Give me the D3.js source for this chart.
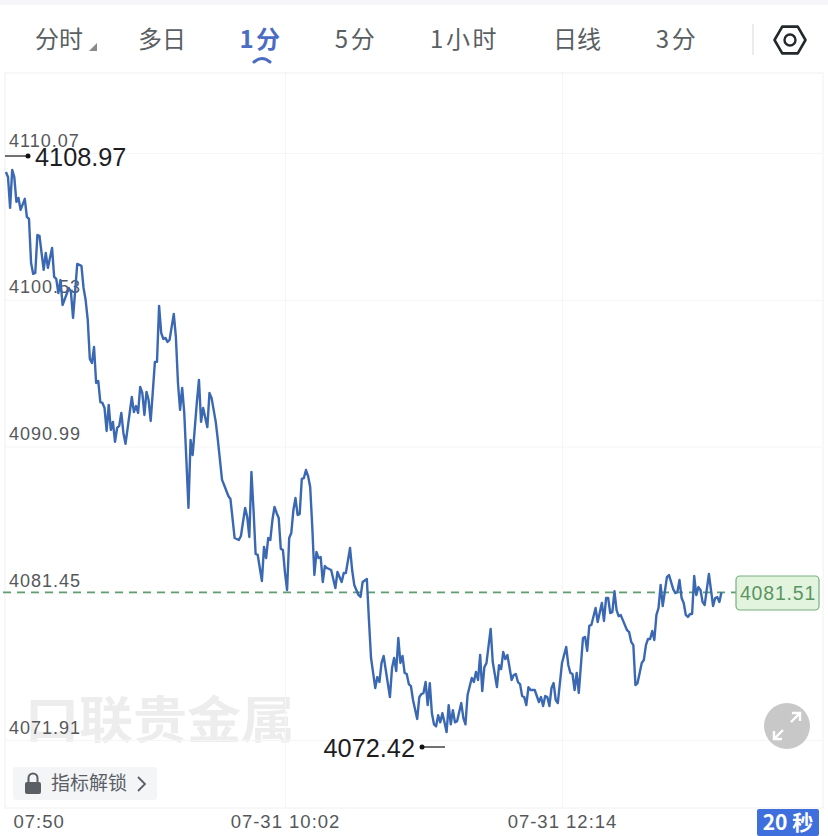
<!DOCTYPE html>
<html>
<head>
<meta charset="utf-8">
<script src="https://cdnjs.cloudflare.com/ajax/libs/d3/7.8.5/d3.min.js"></script>
<style>
html,body{margin:0;padding:0;background:#fff;overflow:hidden}
svg{display:block}
text{font-family:"Liberation Sans",Arial,sans-serif}
.cjk{font-family:"Noto Sans CJK SC","Noto Sans",sans-serif}
</style>
</head>
<body>
<svg id="chart" width="828" height="836"></svg>
<script>
// Minutes after 07:50 for each traced vertex of the price line
const minutes = [-1,0,1,2,3,4,5,6,8,9,10,11,12,13,14,15,17,18,19,21,22,23,24,25,26,29,30,31,33,35,36,37,38,39,40,41,42,43,44,45,46,47,48,49,50,51,52,53,54,55,56,59,60,61,62,63,64,65,66,67,68,69,70,71,72,73,74,75,76,77,79,80,81,82,83,84,85,86,87,88,90,91,92,93,95,96,97,99,100,102,103,105,106,108,110,111,113,114,115,116,117,118,119,121,122,123,124,125,126,127,128,129,130,131,132,133,134,135,136,137,138,139,140,141,142,143,144,145,146,147,148,149,150,151,152,154,156,157,159,160,161,163,164,165,167,168,169,171,172,173,174,175,176,177,178,179,182,183,184,185,186,187,188,189,190,191,192,193,195,196,197,198,199,200,201,202,203,204,205,206,207,208,209,210,211,212,213,214,216,217,218,219,221,222,223,224,225,226,227,228,230,231,233,234,235,236,237,238,240,241,242,243,244,245,246,247,248,249,251,253,254,255,256,257,258,259,260,261,262,264,266,267,268,269,270,271,272,274,275,276,277,278,280,281,283,284,285,286,287,288,289,290,291,292,295,296,297,298,299,300,302,303,304,305,306,307,308,309,310,311,312,314,315,317,318,319,320,321,322,323,324,325,326,327,328,329,330,331,332,334,336,337,338,339,340];

// Price at each of those minutes
const prices = [4108.84,4108.51,4106.50,4108.97,4108.51,4106.89,4107.15,4106.37,4107.09,4105.91,4105.78,4102.92,4102.21,4102.27,4104.74,4104.68,4102.47,4103.57,4102.60,4103.90,4102.01,4101.88,4100.97,4101.81,4100.19,4101.29,4101.03,4099.35,4102.86,4102.73,4101.30,4100.51,4099.22,4096.68,4096.42,4097.46,4095.12,4095.25,4093.88,4093.82,4093.49,4092.00,4093.69,4092.07,4092.59,4091.29,4092.20,4092.33,4093.17,4091.87,4091.16,4094.21,4093.23,4093.62,4093.17,4094.86,4094.47,4093.04,4094.54,4094.01,4092.65,4094.54,4096.49,4096.49,4100.13,4098.38,4097.98,4098.05,4097.79,4097.92,4099.61,4098.11,4095.12,4093.37,4094.80,4093.17,4090.11,4087.00,4091.42,4090.44,4093.88,4095.32,4092.59,4093.49,4092.25,4094.47,4094.15,4092.59,4091.42,4088.82,4088.49,4087.77,4087.58,4085.04,4084.91,4085.17,4087.00,4086.41,4085.11,4089.33,4086.86,4084.00,4083.94,4082.25,4084.46,4083.74,4085.04,4084.91,4086.21,4087.06,4086.67,4086.34,4084.33,4084.27,4082.78,4081.66,4085.04,4085.37,4086.86,4087.64,4086.54,4086.60,4088.88,4088.94,4089.46,4089.07,4088.36,4085.76,4082.64,4084.13,4083.74,4083.81,4082.18,4083.22,4083.09,4082.96,4081.79,4082.83,4082.18,4082.77,4082.77,4084.39,4082.96,4081.99,4081.34,4081.21,4082.18,4082.38,4079.71,4077.24,4076.27,4075.29,4076.00,4075.68,4076.92,4077.37,4074.70,4076.59,4077.24,4076.39,4078.54,4076.92,4077.37,4076.27,4076.20,4075.55,4075.42,4074.51,4073.28,4074.70,4074.90,4074.96,4075.68,4074.18,4075.61,4073.65,4072.93,4072.80,4073.52,4073.06,4073.65,4073.06,4072.42,4074.18,4072.93,4073.85,4073.06,4073.13,4074.31,4073.33,4072.93,4074.83,4075.94,4075.68,4076.33,4075.81,4077.44,4075.09,4076.65,4076.91,4079.13,4076.98,4075.35,4076.78,4076.52,4077.63,4077.17,4077.43,4075.81,4076.13,4076.20,4075.68,4075.55,4074.77,4074.70,4074.18,4075.35,4075.16,4075.16,4074.38,4074.70,4074.12,4074.77,4074.70,4074.12,4075.29,4075.61,4074.51,4074.31,4076.92,4077.96,4076.79,4076.27,4076.20,4075.16,4076.27,4074.97,4078.54,4078.61,4077.70,4079.33,4079.39,4080.49,4079.58,4080.82,4079.65,4081.14,4081.14,4080.16,4080.22,4081.59,4080.35,4079.96,4080.03,4079.05,4078.92,4078.28,4078.08,4075.48,4075.61,4076.92,4077.11,4078.08,4078.48,4078.48,4079.00,4078.41,4080.04,4080.49,4081.99,4080.62,4082.50,4082.63,4081.72,4081.46,4081.53,4082.31,4081.14,4080.82,4080.04,4079.91,4080.10,4080.10,4082.57,4081.33,4081.85,4081.66,4080.88,4080.69,4082.70,4080.62,4081.14,4081.20,4080.88,4081.51];

const priceTicks = [4110.07,4100.53,4090.99,4081.45,4071.91];
const timeTicks = [0,132,264];
const timeLabels = ["07:50","07-31 10:02","07-31 12:14"];
const tabLabels = ["分时","多日","1分","5分","1小时","日线","3分"];
const activeTab = "1分";
const highPrice = 4108.97;
const lowPrice = 4072.42;
const lastPrice = 4081.51;
const unlockLabel = "指标解锁";
const countdownLabel = "20 秒";
const brandLabel = "口联贵金属";

const svg = d3.select("#chart");
const frame = {left:5, right:823, top:73, bottom:808};

const x = d3.scaleLinear().domain([0,264]).range([8,562]);
const y = d3.scaleLinear().domain([4110.07,4071.91]).range([153,740]);

// Top strip of the page
svg.append("rect").attr("width",828).attr("height",5).attr("fill","#f5f5fa");

// Period tabs
const tabCenters = d3.scaleOrdinal().domain(tabLabels).range([59,162,261,356,464.5,577,677]);
svg.append("g").selectAll("text").data(tabLabels).join("text")
  .attr("class","cjk")
  .attr("x",d=>tabCenters(d)).attr("y",48)
  .attr("text-anchor","middle")
  .attr("font-size",24)
  .attr("letter-spacing",d=>/\d/.test(d)?2.5:0)
  .attr("font-weight",d=>d===activeTab?700:400)
  .attr("fill",d=>d===activeTab?"#4c6cc4":"#5a5f63")
  .text(d=>d);
svg.append("path").attr("d","M89 51L97 43V51Z").attr("fill","#8a8a8a");
svg.append("path").attr("d","M254 62Q262 55 270 62").attr("fill","none")
  .attr("stroke","#4c6cc4").attr("stroke-width",3).attr("stroke-linecap","round");
svg.append("line").attr("x1",753).attr("x2",753).attr("y1",24).attr("y2",55)
  .attr("stroke","#e6e6e6").attr("stroke-width",1.5);
// Settings hexagon
svg.append("path").attr("d",d3.line()(d3.range(6).map(i=>{
    const a=i*Math.PI/3; return [790+15.5*Math.cos(a),40+15.5*Math.sin(a)];
  }))+"Z").attr("fill","none").attr("stroke","#23282b").attr("stroke-width",2.6).attr("stroke-linejoin","round");
svg.append("circle").attr("cx",790).attr("cy",40).attr("r",5.5).attr("fill","none")
  .attr("stroke","#23282b").attr("stroke-width",2.4);

// Plot frame
svg.append("rect").attr("x",frame.left).attr("y",frame.top)
  .attr("width",frame.right-frame.left).attr("height",frame.bottom-frame.top)
  .attr("fill","none").attr("stroke","#f0f0f1").attr("stroke-width",1);

// Watermark
svg.append("text").attr("class","cjk").attr("x",25).attr("y",738)
  .attr("font-size",50).attr("font-weight",700).attr("fill","#ededed")
  .attr("textLength",270).attr("lengthAdjust","spacingAndGlyphs").text(brandLabel);

// Price axis: full-width gridlines with labels sitting above each line
const yAxis = svg.append("g").attr("transform",`translate(${frame.left},0)`)
  .call(d3.axisRight(y).tickValues(priceTicks).tickSize(frame.right-frame.left).tickFormat(d3.format(".2f")));
yAxis.select(".domain").remove();
yAxis.selectAll("line").attr("stroke","#f5f5f7");
yAxis.selectAll("text").attr("x",4).attr("dy",-7).attr("font-size",18).attr("letter-spacing",1)
  .attr("font-family","Liberation Sans").attr("fill","#55585b");

// Time axis: vertical gridlines and labels under the frame
const xAxis = svg.append("g").attr("transform",`translate(0,${frame.bottom})`)
  .call(d3.axisBottom(x).tickValues(timeTicks).tickSize(-(frame.bottom-frame.top)).tickPadding(7)
    .tickFormat((d,i)=>timeLabels[i]));
xAxis.select(".domain").remove();
xAxis.selectAll("line").attr("stroke",(d,i)=>i===0?"none":"#f5f5f7");
xAxis.selectAll("text").attr("font-size",18.5).attr("letter-spacing",1)
  .attr("font-family","Liberation Sans").attr("fill","#55585b")
  .attr("text-anchor","middle");
xAxis.selectAll(".tick").filter((d,i)=>i===0).select("text").attr("text-anchor","start").attr("x",5);

// Last-price reference line
svg.append("line").attr("x1",3).attr("x2",736).attr("y1",y(lastPrice)).attr("y2",y(lastPrice))
  .attr("stroke","#5f9e6e").attr("stroke-width",1.8).attr("stroke-dasharray","8,6");

// Price line
const series = minutes.map((m,i)=>({m,p:prices[i]}));
svg.append("path").datum(series)
  .attr("fill","none").attr("stroke","#3a68b2").attr("stroke-width",2.4).attr("stroke-linejoin","round")
  .attr("d",d3.line().x(d=>x(d.m)).y(d=>y(d.p)));

// Last-price badge
svg.append("rect").attr("x",736).attr("y",576).attr("width",83).attr("height",34).attr("rx",4)
  .attr("fill","#e3f4de").attr("stroke","#79ad80").attr("stroke-width",1.2);
svg.append("text").attr("x",778).attr("y",600).attr("text-anchor","middle")
  .attr("font-size",19.5).attr("letter-spacing",.8).attr("fill","#5a9563").text(lastPrice.toFixed(2));

// High and low callouts
svg.append("line").attr("x1",5).attr("x2",28).attr("y1",156).attr("y2",156).attr("stroke","#111").attr("stroke-width",1.2);
svg.append("circle").attr("cx",28).attr("cy",156).attr("r",2.5).attr("fill","#111");
svg.append("text").attr("x",35).attr("y",166).attr("font-size",25.3).attr("fill","#1d1d1f").text(highPrice.toFixed(2));
svg.append("line").attr("x1",422).attr("x2",445).attr("y1",747).attr("y2",747).attr("stroke","#111").attr("stroke-width",1.2);
svg.append("circle").attr("cx",422).attr("cy",747).attr("r",2.5).attr("fill","#111");
svg.append("text").attr("x",415).attr("y",757).attr("text-anchor","end").attr("font-size",25.3).attr("fill","#1d1d1f").text(lowPrice.toFixed(2));

// Expand button
svg.append("circle").attr("cx",787).attr("cy",726).attr("r",23).attr("fill","#c8c8c8");
svg.append("path").attr("d","M791 722L800 713M792 713H800V721M783 730L774 739M782 739H774V731")
  .attr("fill","none").attr("stroke","#fff").attr("stroke-width",2.4);

// Unlock button
svg.append("rect").attr("x",13).attr("y",767).attr("width",144).attr("height",33).attr("rx",3).attr("fill","#f4f5f7");
svg.append("rect").attr("x",25).attr("y",782).attr("width",16).attr("height",12).attr("rx",2).attr("fill","#5a5f66");
svg.append("path").attr("d","M28.5 782V778A4.5 4.5 0 0 1 37.5 778V782").attr("fill","none").attr("stroke","#5a5f66").attr("stroke-width",2);
svg.append("text").attr("class","cjk").attr("x",51).attr("y",790).attr("font-size",19).attr("fill","#5a5f66").text(unlockLabel);
svg.append("path").attr("d","M138 777L145 784L138 791").attr("fill","none").attr("stroke","#5a5f66").attr("stroke-width",1.8);

// Countdown tag
svg.append("rect").attr("x",757).attr("y",809).attr("width",62).attr("height",27).attr("rx",2).attr("fill","#3f6fdc");
svg.append("text").attr("class","cjk").attr("x",788).attr("y",830).attr("text-anchor","middle")
  .attr("font-size",21).attr("font-weight",700).attr("fill","#fff").text(countdownLabel);
</script>
</body>
</html>
